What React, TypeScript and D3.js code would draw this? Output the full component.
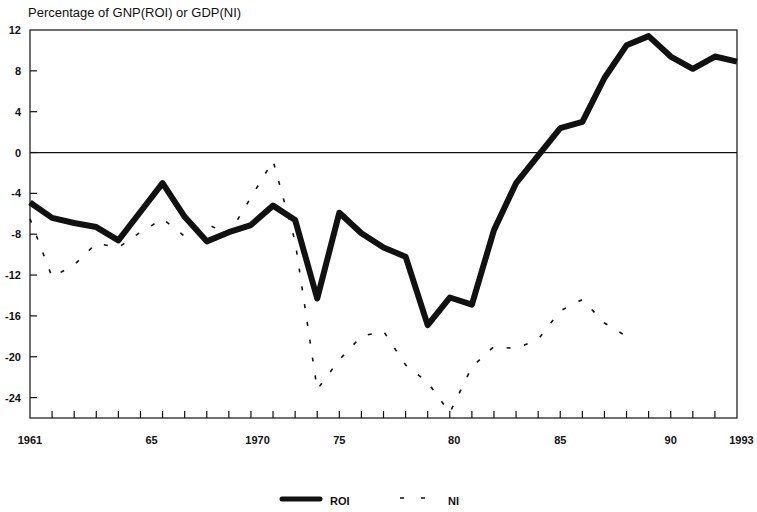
import { useEffect, useRef } from "react";
import * as d3 from "d3";

const years = [
  1961, 1962, 1963, 1964, 1965, 1966, 1967, 1968, 1969, 1970, 1971, 1972,
  1973, 1974, 1975, 1976, 1977, 1978, 1979, 1980, 1981, 1982, 1983, 1984,
  1985, 1986, 1987, 1988, 1989, 1990, 1991, 1992, 1993,
];

// ROI: percentage of GNP
const roi = [
  -4.9, -6.4, -6.9, -7.3, -8.6, -5.8, -3.0, -6.3, -8.7, -7.8, -7.1, -5.2,
  -6.6, -14.3, -5.9, -7.9, -9.3, -10.2, -16.9, -14.2, -14.9, -7.6, -3.0, -0.3,
  2.4, 3.0, 7.3, 10.5, 11.4, 9.4, 8.2, 9.4, 8.9,
];

// NI: percentage of GDP (1961-1988)
const ni = [
  -6.5, -12.2, -11.0, -8.9, -9.3, -7.8, -6.5, -8.2, -7.0, -8.0, -4.4, -0.8,
  -8.7, -23.2, -20.3, -18.0, -17.5, -20.8, -22.5, -25.5, -21.0, -19.0, -19.2,
  -18.3, -15.5, -14.4, -16.7, -18.0,
];

const yTicks = [12, 8, 4, 0, -4, -8, -12, -16, -20, -24];
const xLabels = ["1961", "65", "1970", "75", "80", "85", "90", "1993"];
// where the printed labels sit along the year axis
const xLabelAt = [1961, 1966.5, 1971.3, 1975, 1980.2, 1985, 1990, 1993.2];

export default function App() {
  const svgRef = useRef<SVGSVGElement>(null);

  useEffect(() => {
    if (!svgRef.current) return;
    const svg = d3.select(svgRef.current);
    svg.selectAll("*").remove();

    const left = 30;
    const right = 737;
    const top = 30;
    const bottom = 418;
    const font = "Arial, 'Liberation Sans', sans-serif";
    const ink = "#111";

    const x = d3.scaleLinear().domain([1961, 1993]).range([left, right]);
    const y = d3.scaleLinear().domain([-26, 12]).range([bottom, top]);

    // title
    svg
      .append("text")
      .attr("x", 28)
      .attr("y", 17)
      .attr("font-family", font)
      .attr("font-size", 13)
      .attr("fill", ink)
      .text("Percentage of GNP(ROI) or GDP(NI)");

    // frame
    svg
      .append("rect")
      .attr("x", left)
      .attr("y", top)
      .attr("width", right - left)
      .attr("height", bottom - top)
      .attr("fill", "none")
      .attr("stroke", ink)
      .attr("stroke-width", 1.2);

    // zero line
    svg
      .append("line")
      .attr("x1", left)
      .attr("x2", right)
      .attr("y1", y(0))
      .attr("y2", y(0))
      .attr("stroke", ink)
      .attr("stroke-width", 1.2);

    // y ticks + labels
    yTicks.forEach((v) => {
      if (v !== 12) {
        svg
          .append("line")
          .attr("x1", left)
          .attr("x2", left + 7)
          .attr("y1", y(v))
          .attr("y2", y(v))
          .attr("stroke", ink)
          .attr("stroke-width", 1.2);
      }
      svg
        .append("text")
        .attr("x", 21)
        .attr("y", y(v) + 4)
        .attr("text-anchor", "end")
        .attr("font-family", font)
        .attr("font-size", 11)
        .attr("font-weight", "bold")
        .attr("fill", ink)
        .text(String(v));
    });

    // x ticks (every year)
    years.slice(1, -1).forEach((yr) => {
      svg
        .append("line")
        .attr("x1", x(yr))
        .attr("x2", x(yr))
        .attr("y1", bottom)
        .attr("y2", bottom - 7)
        .attr("stroke", ink)
        .attr("stroke-width", 1.2);
    });

    xLabels.forEach((lab, i) => {
      svg
        .append("text")
        .attr("x", x(xLabelAt[i]))
        .attr("y", 444)
        .attr("text-anchor", "middle")
        .attr("font-family", font)
        .attr("font-size", 11)
        .attr("font-weight", "bold")
        .attr("fill", ink)
        .text(lab);
    });

    const line = d3
      .line<number>()
      .x((_, i) => x(years[i]))
      .y((d) => y(d));

    // NI dashed
    svg
      .append("path")
      .datum(ni)
      .attr("fill", "none")
      .attr("stroke", ink)
      .attr("stroke-width", 1.6)
      .attr("stroke-dasharray", "4,14")
      .attr("d", line);

    // ROI thick
    svg
      .append("path")
      .datum(roi)
      .attr("fill", "none")
      .attr("stroke", ink)
      .attr("stroke-width", 6)
      .attr("stroke-linejoin", "round")
      .attr("d", line);

    // legend
    const ly = 499;
    svg
      .append("line")
      .attr("x1", 282)
      .attr("x2", 320)
      .attr("y1", ly)
      .attr("y2", ly)
      .attr("stroke", ink)
      .attr("stroke-width", 5)
      .attr("stroke-linecap", "round");
    svg
      .append("text")
      .attr("x", 330)
      .attr("y", ly + 6)
      .attr("font-family", font)
      .attr("font-size", 11)
      .attr("font-weight", "bold")
      .attr("fill", ink)
      .text("ROI");
    svg
      .append("line")
      .attr("x1", 400)
      .attr("x2", 426)
      .attr("y1", ly - 1)
      .attr("y2", ly - 1)
      .attr("stroke", ink)
      .attr("stroke-width", 1.6)
      .attr("stroke-dasharray", "4,17");
    svg
      .append("text")
      .attr("x", 448)
      .attr("y", ly + 6)
      .attr("font-family", font)
      .attr("font-size", 11)
      .attr("font-weight", "bold")
      .attr("fill", ink)
      .text("NI");
  }, []);

  return (
    <svg
      ref={svgRef}
      width={757}
      height={512}
      style={{ position: "absolute", left: 0, top: 0, background: "#fff" }}
    />
  );
}
